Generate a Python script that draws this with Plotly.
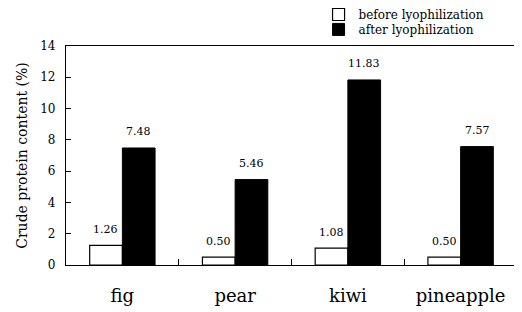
import plotly.graph_objects as go

categories = ["fig", "pear", "kiwi", "pineapple"]
before = [1.26, 0.50, 1.08, 0.50]
after = [7.48, 5.46, 11.83, 7.57]
before_labels = ["1.26", "0.50", "1.08", "0.50"]
after_labels = ["7.48", "5.46", "11.83", "7.57"]
yticks = [0, 2, 4, 6, 8, 10, 12, 14]

serif = "DejaVu Serif"

fig = go.Figure()
fig.add_trace(go.Bar(
    x=categories, y=before, name="before lyophilization",
    marker=dict(color="white", line=dict(color="black", width=1.2)),
    cliponaxis=False, legend="legend",
))
fig.add_trace(go.Bar(
    x=categories, y=after, name="after lyophilization",
    marker=dict(color="black", line=dict(color="black", width=1)),
    cliponaxis=False, legend="legend2",
))

# value labels above each bar (offset half a bar width left/right of group centre)
half_bar_px = 16.4
for cat, v, lab in zip(categories, before, before_labels):
    fig.add_annotation(x=cat, y=v, text=lab, showarrow=False, xref="x", yref="y",
                       xshift=-half_bar_px, yshift=16,
                       font=dict(family=serif, size=11, color="black"))
for cat, v, lab in zip(categories, after, after_labels):
    fig.add_annotation(x=cat, y=v, text=lab, showarrow=False, xref="x", yref="y",
                       xshift=half_bar_px, yshift=16,
                       font=dict(family=serif, size=11, color="black"))

legend_common = dict(
    xanchor="left", yanchor="top",
    font=dict(family=serif, size=12, color="black"),
    bgcolor="rgba(0,0,0,0)", itemwidth=30,
)

fig.update_layout(
    width=514, height=304,
    margin=dict(l=58, r=5, t=38, b=47, autoexpand=False),
    paper_bgcolor="white", plot_bgcolor="white",
    barmode="group", bargap=0.42, bargroupgap=0,
    font=dict(family=serif, color="black"),
    showlegend=True,
    legend=dict(x=0.56, y=1.21, **legend_common),
    legend2=dict(x=0.56, y=1.142, **legend_common),
)
fig.update_xaxes(
    range=[-0.5, 3.5], automargin=False,
    showline=True, linecolor="black", linewidth=1.2, mirror=True,
    ticks="inside", tickson="boundaries", ticklen=6, tickcolor="black",
    tickfont=dict(family=serif, size=18, color="black"),
    ticklabelstandoff=14,
    showgrid=False,
)
fig.update_yaxes(
    range=[0, 14], tickvals=yticks, automargin=False,
    showline=True, linecolor="black", linewidth=1.2, mirror=True,
    ticks="inside", ticklen=5, tickcolor="black",
    tickfont=dict(family=serif, size=12, color="black"),
    ticklabelstandoff=7,
    showgrid=False, zeroline=False,
    title=dict(text="Crude protein content (%)",
               font=dict(family=serif, size=14, color="black"), standoff=9),
)

fig.write_html("out.html")
